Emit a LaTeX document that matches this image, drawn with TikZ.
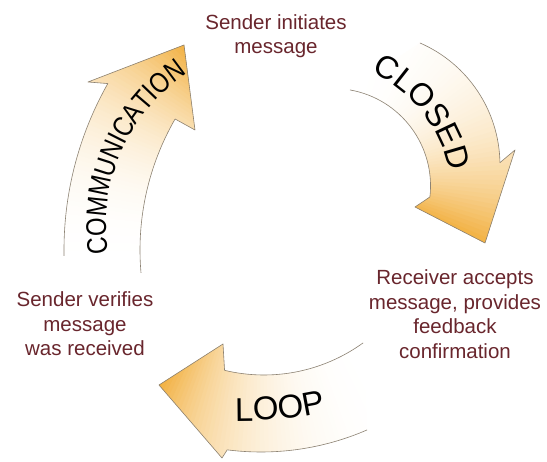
\documentclass[tikz,border=0pt]{standalone}
\usepackage{fontspec}
\setmainfont{Liberation Sans}
\newfontfamily\narrowfont[FakeStretch=0.84]{Liberation Sans}
\usetikzlibrary{decorations.text}
\definecolor{arroworange}{RGB}{242,176,64}
\definecolor{edgegray}{RGB}{140,130,115}
\definecolor{labelred}{RGB}{105,38,45}
\newcommand{\gradsectors}[4]{%
  \foreach \i in {0,...,60}{%
    \pgfmathsetmacro{\ff}{\i/60}%
    \pgfmathsetmacro{\aa}{#3+(#4-#3)*\i/60}%
    \pgfmathsetmacro{\ab}{#3+(#4-#3)*(\i+1.8)/60}%
    \pgfmathsetmacro{\pct}{100*\ff*\ff*(0.3+0.7*\ff)}%
    \fill[arroworange!\pct!white] (#1,#2) -- ([shift={(\aa:600)}]#1,#2) arc[start angle=\aa, end angle=\ab, radius=600] -- cycle;
  }%
}
\begin{document}
\begin{tikzpicture}[x=1pt,y=1pt,
  edge/.style={draw=edgegray, line width=0.6pt, line join=round},
  msgtext/.style={text=labelred, align=center, font=\fontsize{20.5}{24.5}\selectfont, inner sep=0pt}]
\useasboundingbox (0,0) rectangle (547,462);
\fill[white] (0,0) rectangle (547,462);

% COMMUNICATION arrow
\begin{scope}
\clip (64.05,206.1) arc[start angle=181, end angle=150.5, radius=338] -- (88,380) -- (184,417) -- (195,332) -- (175.1,343.0) arc[start angle=150, end angle=185, radius=262] -- cycle;
\gradsectors{402}{212}{184}{137}
\end{scope}
\draw[edge] (64.05,206.1) arc[start angle=181, end angle=150.5, radius=338] -- (88,380) -- (184,417) -- (195,332) -- (175.1,343.0) arc[start angle=150, end angle=185, radius=262];

% CLOSED arrow
\begin{scope}
\clip (420.0,419.0) arc[start angle=66.5, end angle=1, radius=133] -- (515,312) -- (485,219) -- (415,255) -- (429.9,265.0) arc[start angle=-6.5, end angle=80, radius=97.5] -- cycle;
\gradsectors{345}{285}{85}{-25}
\end{scope}
\draw[edge] (420.0,419.0) arc[start angle=66.5, end angle=1, radius=133] -- (515,312) -- (485,219) -- (415,255) -- (429.9,265.0) arc[start angle=-6.5, end angle=80, radius=97.5];

% LOOP arrow
\begin{scope}
\clip (363.1,119.1) arc[start angle=-54.1, end angle=-103.5, radius=169] -- (223,118) -- (159,77) -- (222,4) -- (227.2,12.15) arc[start angle=-97.3, end angle=-66.5, radius=266] -- cycle;
\gradsectors{262}{266}{-57}{-118}
\end{scope}
\draw[edge] (363.1,119.1) arc[start angle=-54.1, end angle=-103.5, radius=169] -- (223,118) -- (159,77) -- (222,4) -- (227.2,12.15) arc[start angle=-97.3, end angle=-66.5, radius=266];

% arrow words
\path[decorate, decoration={text along path, text align=center, text={|\narrowfont\fontsize{28.5}{28.5}\selectfont|COMMUNICATION}}] ([shift={(191.3:184)}]290,236) arc[start angle=191.3, end angle=121.3, radius=184];
\path[decorate, decoration={text along path, text align=center, text={|\fontsize{32}{32}\selectfont|CLOSED}}] ([shift={(78.3:141.5)}]311,262) arc[start angle=78.3, end angle=-1.7, radius=141.5];
\path[decorate, decoration={text along path, text align=center, text={|\fontsize{33}{33}\selectfont|LOOP}}] ([shift={(-99.3:412)}]240,453) arc[start angle=-99.3, end angle=-69.3, radius=412];

% step labels
\node[msgtext] (initiates) at (276,426) {Sender initiates\\message};
\node[msgtext] (accepts) at (455,148) {Receiver accepts\\message, provides\\feedback\\confirmation};
\node[msgtext] (verifies) at (85,138) {Sender verifies\\message\\was received};
\end{tikzpicture}
\end{document}
